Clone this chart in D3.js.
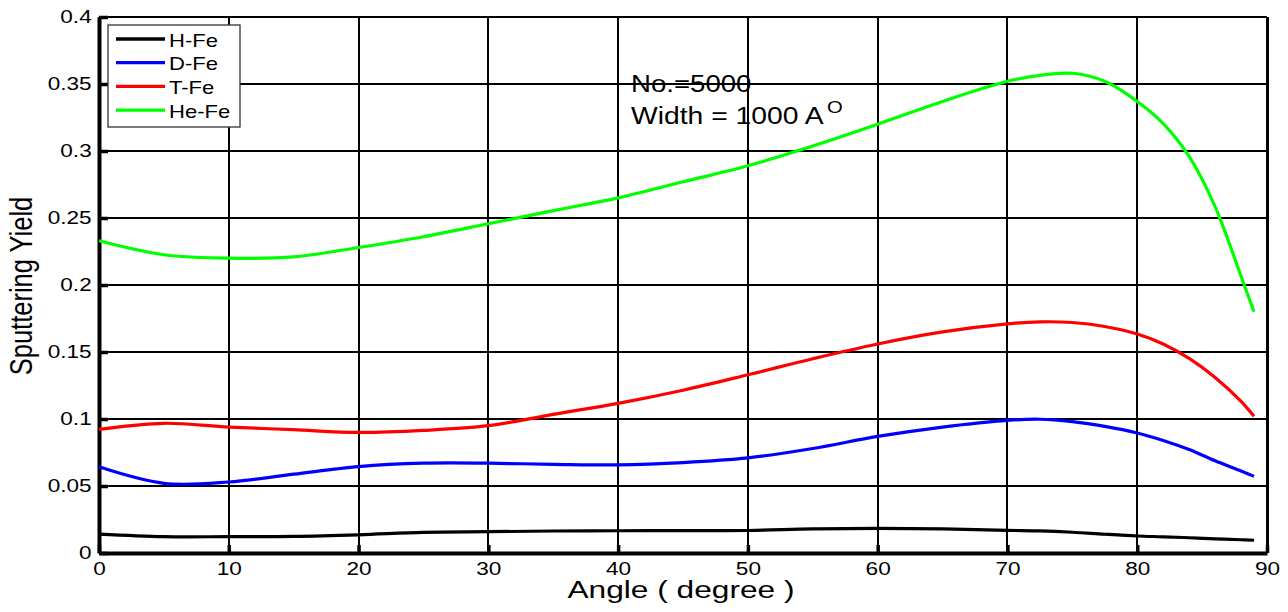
<!DOCTYPE html>
<html>
<head>
<meta charset="utf-8">
<script src="https://cdn.jsdelivr.net/npm/d3@7"></script>
<style>
body { margin: 0; background: #fff; }
text { font-family: "Liberation Sans", Arial, sans-serif; fill: #000; }
</style>
</head>
<body>
<div id="chart"></div>
<script>
var angles = [0, 5, 10, 15, 20, 25, 30, 35, 40, 45, 50, 55, 60, 65, 70, 72.5, 75, 77.5, 80, 82, 84, 86, 88, 89];
var hFe  = [0.0141, 0.0122, 0.0122, 0.0124, 0.0136, 0.0154, 0.0159, 0.0164, 0.0166, 0.0167, 0.0168, 0.0180, 0.0184, 0.0180, 0.0169, 0.0165, 0.0155, 0.0140, 0.0127, 0.0121, 0.0114, 0.0106, 0.0099, 0.0095];
var dFe  = [0.0643, 0.0520, 0.0530, 0.0588, 0.0645, 0.0670, 0.0670, 0.0662, 0.0658, 0.0675, 0.0710, 0.0780, 0.0870, 0.0940, 0.0990, 0.0998, 0.0980, 0.0945, 0.0896, 0.0840, 0.0772, 0.0688, 0.0612, 0.0572];
var tFe  = [0.0923, 0.0968, 0.0940, 0.0920, 0.0900, 0.0915, 0.0950, 0.1035, 0.1117, 0.1215, 0.1330, 0.1450, 0.1560, 0.1650, 0.1710, 0.1725, 0.1720, 0.1690, 0.1634, 0.1560, 0.1452, 0.1310, 0.1132, 0.1020];
var heFe = [0.2330, 0.2226, 0.2200, 0.2210, 0.2280, 0.2360, 0.2457, 0.2555, 0.2650, 0.2770, 0.2890, 0.3037, 0.3200, 0.3370, 0.3520, 0.3565, 0.3580, 0.3520, 0.3370, 0.3205, 0.2960, 0.2585, 0.2065, 0.1800];

var seriesNames = ["H-Fe", "D-Fe", "T-Fe", "He-Fe"];
var seriesValues = [hFe, dFe, tFe, heFe];
var colors = ["#000000", "#0000ff", "#ff0000", "#00ff00"];

var xTicks = [0, 10, 20, 30, 40, 50, 60, 70, 80, 90];
var yTicks = [0, 0.05, 0.1, 0.15, 0.2, 0.25, 0.3, 0.35, 0.4];
var yTickLabels = ["0", "0.05", "0.1", "0.15", "0.2", "0.25", "0.3", "0.35", "0.4"];

function plot() {
	var W = 1288, H = 612;
	var margin = {top: 17, right: 21, bottom: 59, left: 99};
	var width = W - margin.left - margin.right;
	var height = H - margin.top - margin.bottom;

	var svg = d3.select("#chart").append("svg")
	.attr("width", W)
	.attr("height", H);

	svg.append("rect").attr("width", W).attr("height", H).attr("fill", "#fff");

	var g = svg.append("g")
	.attr("transform", "translate(" + margin.left + "," + margin.top + ")");

	var x = d3.scaleLinear().domain([0, 90]).range([0, width]);
	var y = d3.scaleLinear().domain([0, 0.4]).range([height, 0]);

	// grid
	g.selectAll(".vgrid").data(xTicks).enter().append("line")
	.attr("x1", function(d) { return x(d); })
	.attr("x2", function(d) { return x(d); })
	.attr("y1", 0).attr("y2", height)
	.attr("stroke", "#000")
	.attr("shape-rendering", "crispEdges")
	.attr("stroke-width", function(d) { return d === 90 ? 3 : 2; });

	g.selectAll(".hgrid").data(yTicks).enter().append("line")
	.attr("x1", 0).attr("x2", width)
	.attr("y1", function(d) { return y(d); })
	.attr("y2", function(d) { return y(d); })
	.attr("stroke", "#000")
	.attr("shape-rendering", "crispEdges")
	.attr("stroke-width", 2);

	// axes
	var xAxis = g.append("g")
	.attr("transform", "translate(0," + height + ")")
	.call(d3.axisBottom(x).tickValues(xTicks).tickFormat(d3.format("d"))
		.tickSize(-8).tickSizeOuter(0).tickPadding(9));

	var yAxis = g.append("g")
	.call(d3.axisLeft(y).tickValues(yTicks)
		.tickFormat(function(d, i) { return yTickLabels[i]; })
		.tickSize(-9).tickSizeOuter(0).tickPadding(6));

	[xAxis, yAxis].forEach(function(a) {
		a.select(".domain").attr("stroke", "#000").attr("stroke-width", 4);
		a.selectAll(".tick line").attr("stroke", "#000").attr("stroke-width", 3.5);
		a.selectAll(".tick text")
		.attr("font-family", "Liberation Sans, Arial, sans-serif")
		.attr("font-size", 18.5)
		.attr("fill", "#000")
		.attr("transform", "scale(1.22,1)");
	});

	// curves
	var line = d3.line()
	.x(function(d) { return x(d[0]); })
	.y(function(d) { return y(d[1]); })
	.curve(d3.curveCatmullRom.alpha(0.5));

	seriesValues.forEach(function(vals, i) {
		g.append("path")
		.datum(angles.map(function(a, j) { return [a, vals[j]]; }))
		.attr("d", line)
		.attr("fill", "none")
		.attr("stroke", colors[i])
		.attr("stroke-width", 3.2);
	});

	// stretched text helper
	function label(parent, str, tx, ty, size, sx, anchor) {
		return parent.append("text")
		.attr("transform", "translate(" + tx + "," + ty + ") scale(" + sx + ",1)")
		.attr("font-size", size)
		.attr("text-anchor", anchor || "start")
		.text(str);
	}

	// annotation
	label(svg, "No.=5000", 631, 92, 23, 1.2);
	label(svg, "Width = 1000 A", 631, 124, 23, 1.23);
	label(svg, "O", 827, 113, 17, 1.19);

	// axis titles
	label(svg, "Angle ( degree )", 681, 598, 24, 1.32, "middle");
	svg.append("text")
	.attr("transform", "translate(32,286) scale(1.2,1) rotate(-90)")
	.attr("font-size", 25.5)
	.attr("text-anchor", "middle")
	.text("Sputtering Yield");

	// legend
	var leg = svg.append("g");
	leg.append("rect")
	.attr("x", 108).attr("y", 25).attr("width", 132).attr("height", 102)
	.attr("fill", "#fff").attr("stroke", "#333").attr("stroke-width", 1.3);

	seriesNames.forEach(function(name, i) {
		var ly = 39 + i * 23.7;
		leg.append("line")
		.attr("x1", 116).attr("x2", 165)
		.attr("y1", ly).attr("y2", ly)
		.attr("stroke", colors[i]).attr("stroke-width", 3.3);
		label(leg, name, 169, ly + 7.5, 19, 1.16);
	});
}

document.addEventListener("DOMContentLoaded", function() {
	plot();
});
</script>
</body>
</html>
